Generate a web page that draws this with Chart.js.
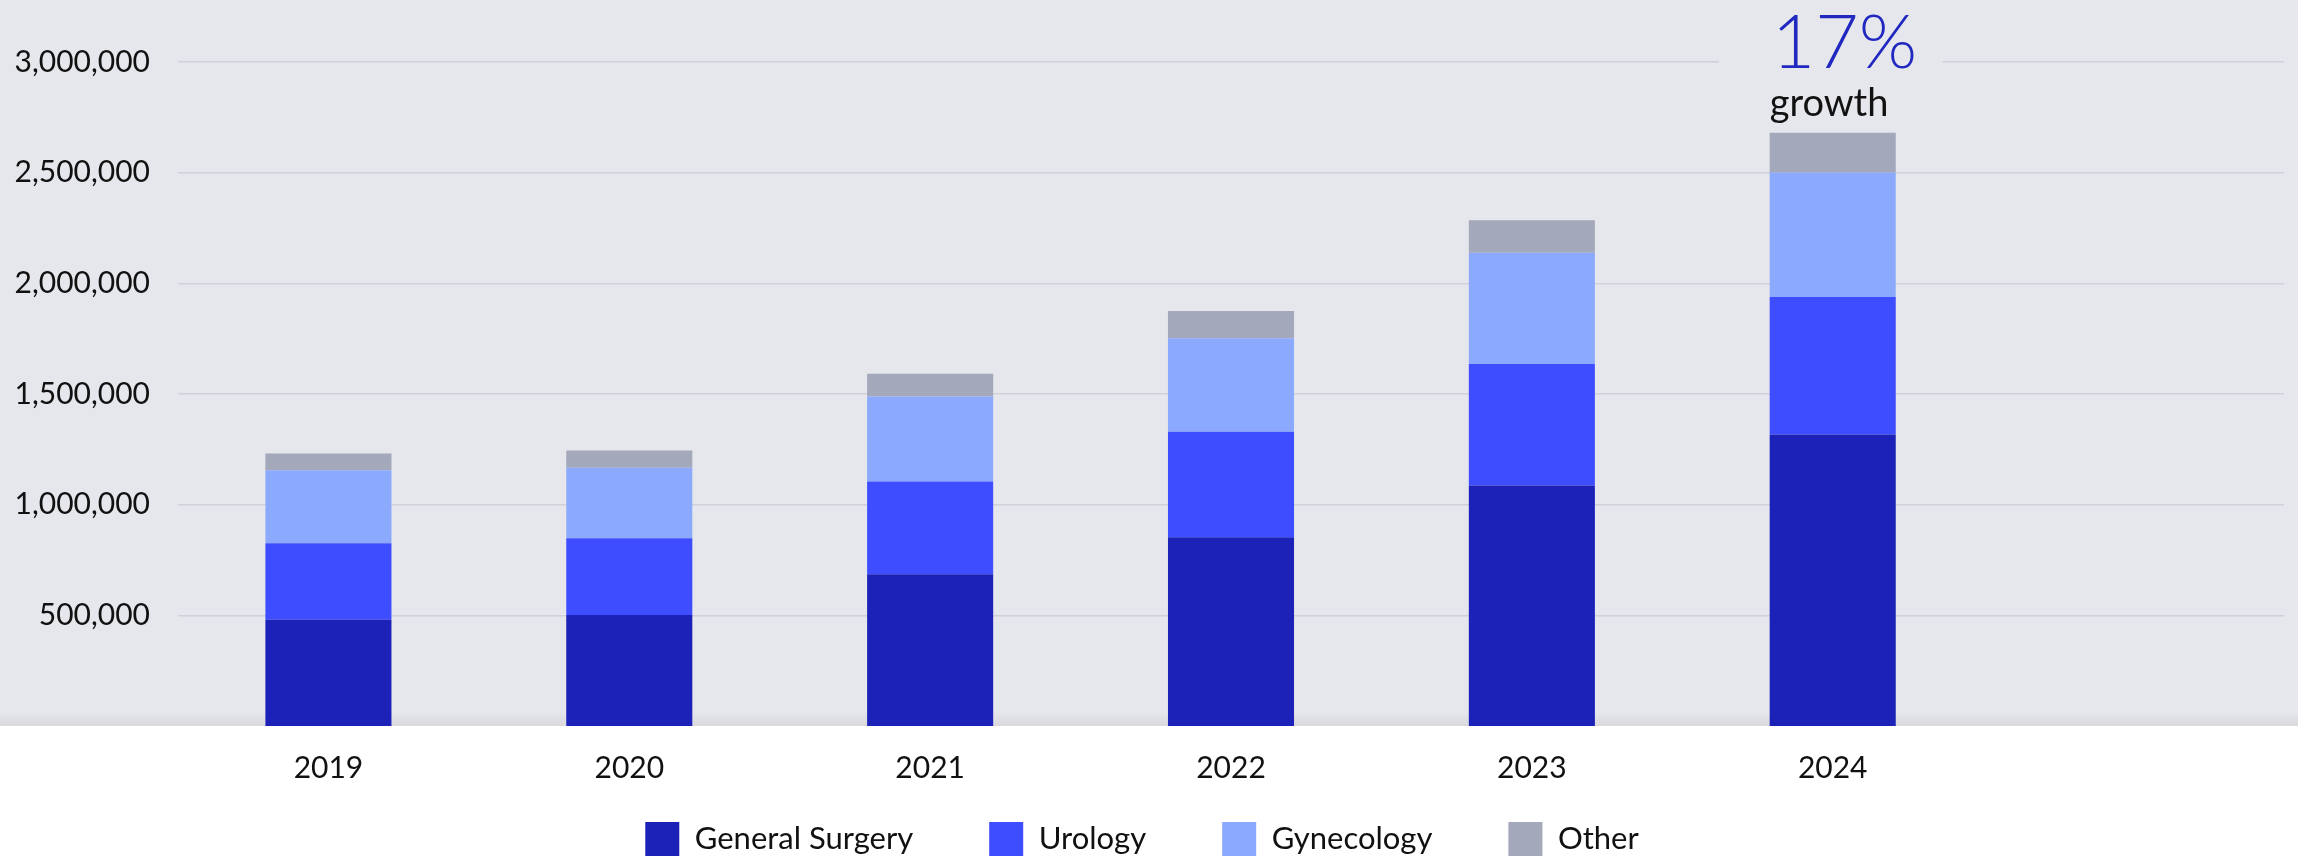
<!DOCTYPE html>
<html>
<head>
<meta charset="utf-8">
<script src="https://cdn.jsdelivr.net/npm/chart.js@4.4.1/dist/chart.umd.min.js"></script>
<style>
  html, body { margin: 0; padding: 0; background: #ffffff; }
  #wrap { width: 2298px; height: 858px; position: relative; }
</style>
</head>
<body>
<div id="wrap"><canvas id="procedimentosChart"></canvas></div>
<script>
// Dados (procedimentos por ano)
const anos = ['2019', '2020', '2021', '2022', '2023', '2024', ''];
const generalSurgery = [480000, 501000, 686000, 853000, 1087000, 1317000, null];
const urology        = [346000, 347000, 419000, 477000, 549000, 621000, null];
const gynecology     = [330000, 319000, 384000, 422000, 502000, 563000, null];
const other          = [75000, 78000, 102000, 123000, 147000, 179000, null];
const yTicks = [500000, 1000000, 1500000, 2000000, 2500000, 3000000];

const corFundo = '#e6e7ec';
const corGrade = '#cfd0d9';

document.addEventListener('DOMContentLoaded', function() {
    const ctx = document.getElementById('procedimentosChart');

    // fundo cinza até o fim da área do gráfico + posição da legenda
    const fundoPlugin = {
        id: 'fundo',
        afterInit(chart) {
            // altura fixa da legenda no layout
            const fitOriginal = chart.legend.fit;
            chart.legend.fit = function() {
                fitOriginal.call(this);
                this.height = 72;
            };
        },
        afterLayout(chart) {
            // caixinhas da legenda começam em y = 822
            const pad = chart.legend.options.labels.padding;
            chart.legend.top = 822 - pad;
            chart.legend.bottom = chart.height;
            chart.legend.height = chart.legend.bottom - chart.legend.top;
        },
        beforeDraw(chart) {
            const c = chart.ctx;
            const bottom = chart.chartArea.bottom;
            c.save();
            c.fillStyle = corFundo;
            c.fillRect(0, 0, chart.width, bottom);
            const g = c.createLinearGradient(0, bottom - 14, 0, bottom);
            g.addColorStop(0, corFundo);
            g.addColorStop(1, '#d8d8dd');
            c.fillStyle = g;
            c.fillRect(0, bottom - 14, chart.width, 14);
            c.restore();
        }
    };

    // "17% growth" em cima da última barra
    const crescimentoPlugin = {
        id: 'crescimento',
        afterDraw(chart) {
            const c = chart.ctx;
            const bar = chart.getDatasetMeta(3).data[5];
            const left = bar.x - bar.width / 2;
            const yTop = chart.scales.y.getPixelForValue(3000000);

            const total = i => generalSurgery[i] + urology[i] + gynecology[i] + other[i];
            const pct = Math.round((total(5) / total(4) - 1) * 100) + '%';

            c.save();
            // abre um espaço na linha de grade
            c.fillStyle = corFundo;
            c.fillRect(bar.x - 114, yTop - 4, 224, 8);

            c.textAlign = 'left';
            c.textBaseline = 'alphabetic';
            c.fillStyle = '#2028c0';
            c.font = '300 75px Lato';
            c.fillText(pct, left + 2, 68);
            c.fillStyle = '#111111';
            c.font = '400 38px Lato';
            c.fillText('growth', left, 116);
            c.restore();
        }
    };

    new Chart(ctx, {
        type: 'bar',
        data: {
            labels: anos,
            datasets: [
                { label: 'General Surgery', data: generalSurgery, backgroundColor: '#1c22b8' },
                { label: 'Urology', data: urology, backgroundColor: '#3e4dff' },
                { label: 'Gynecology', data: gynecology, backgroundColor: '#8caafd' },
                { label: 'Other', data: other, backgroundColor: '#a3a8ba' }
            ]
        },
        options: {
            responsive: true,
            maintainAspectRatio: false,
            animation: false,
            datasets: {
                bar: { categoryPercentage: 1, barPercentage: 0.419, borderWidth: 0 }
            },
            layout: { padding: { top: 62, right: 14, left: 0, bottom: 0 } },
            scales: {
                x: {
                    stacked: true,
                    grid: { display: false, drawTicks: false },
                    border: { display: false },
                    ticks: { padding: 24, color: '#111111', font: { family: 'Lato', size: 30 } },
                    afterFit: function(scale) { scale.height = 60; }
                },
                y: {
                    stacked: true,
                    min: 0,
                    max: 3000000,
                    afterBuildTicks: function(scale) {
                        scale.ticks = yTicks.map(v => ({ value: v }));
                    },
                    afterFit: function(scale) { scale.width = 178; },
                    grid: { color: corGrade, lineWidth: 1.5, drawTicks: false },
                    border: { display: false },
                    ticks: {
                        padding: 28,
                        color: '#111111',
                        font: { family: 'Lato', size: 30 },
                        callback: function(value) { return value.toLocaleString('en-US'); }
                    }
                }
            },
            plugins: {
                legend: {
                    display: true,
                    position: 'bottom',
                    labels: {
                        boxWidth: 34,
                        boxHeight: 34,
                        padding: 76,
                        color: '#111111',
                        font: { family: 'Lato', size: 31 }
                    }
                },
                tooltip: { enabled: false }
            }
        },
        plugins: [fundoPlugin, crescimentoPlugin]
    });
});
</script>
</body>
</html>
